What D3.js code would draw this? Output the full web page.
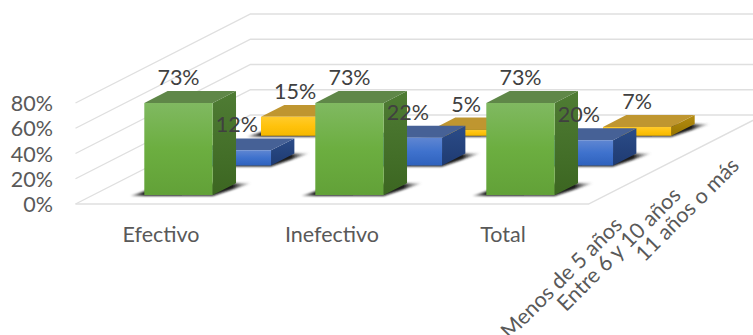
<!DOCTYPE html>
<html><head><meta charset="utf-8">
<script src="https://cdn.jsdelivr.net/npm/d3@7/dist/d3.min.js"></script>
<style>html,body{margin:0;padding:0;background:#fff;overflow:hidden}svg{display:block}text{font-family:Lato,"Open Sans",sans-serif}</style>
</head><body><svg id="c" width="753" height="335"></svg>
<script>
const categories = ["Efectivo", "Inefectivo", "Total"];
const seriesNames = ["Menos de 5 años", "Entre 6 y 10 años", "11 años o más"];
const menos5 = [73, 73, 73];
const entre6y10 = [12, 22, 20];
const once = [15, 5, 7];
const yTicks = [0, 20, 40, 60, 80, 100];
const yTickLabels = ["0%", "20%", "40%", "60%", "80%"];
const seriesValues = [menos5, entre6y10, once];
const palette = [
  {front:["#80b961","#6cae40","#62a138"], top:"#5f8748", side:["#4f7c34","#3c6621"]},
  {front:["#5f86d2","#3f72cd","#2f62bd"], top:"#466196", side:["#2b4c88","#1f3b72"]},
  {front:["#ffcb2c","#ffc20c","#f5b800"], top:"#bf9630", side:["#b58d12","#977500"]}
];

const W = 753, H = 335, depthDX = 175, depthDY = 89;
const FS = 21.5;
const svg = d3.select("#c");
const x = d3.scaleBand().domain(categories).range([75.5, 588.5]).paddingInner(0.6).paddingOuter(0.3);
const z = d3.scaleBand().domain(seriesNames).range([0, 1]).paddingInner(0.6).paddingOuter(0.3);
const y = d3.scaleLinear().domain([0, 80]).range([204, 103]);
const P = (px, d, v) => [px + d * depthDX, y(v) - d * depthDY];
const poly = pts => pts.map(p => p.map(n => n.toFixed(2)).join(",")).join(" ");

const defs = svg.append("defs");
defs.append("filter").attr("id","blur").attr("x","-20%").attr("y","-50%").attr("width","140%").attr("height","200%")
  .append("feGaussianBlur").attr("stdDeviation",0.9);
palette.forEach((c,i)=>{
  const f = defs.append("linearGradient").attr("id","f"+i).attr("x1",0).attr("x2",0).attr("y1",0).attr("y2",1);
  c.front.forEach((col,k)=>f.append("stop").attr("offset",k/2).attr("stop-color",col));
  const s = defs.append("linearGradient").attr("id","s"+i).attr("x1",0).attr("x2",0).attr("y1",0).attr("y2",1);
  c.side.forEach((col,k)=>s.append("stop").attr("offset",k).attr("stop-color",col));
});
const sg = defs.append("linearGradient").attr("id","shadow").attr("x1",0).attr("x2",1).attr("y1",0).attr("y2",0);
sg.append("stop").attr("offset",0).attr("stop-color","#000").attr("stop-opacity",.25);
sg.append("stop").attr("offset",.12).attr("stop-color","#000").attr("stop-opacity",.9);
sg.append("stop").attr("offset",.85).attr("stop-color","#111").attr("stop-opacity",.95);
sg.append("stop").attr("offset",1).attr("stop-color","#666").attr("stop-opacity",.15);

// gridlines
const grid = svg.append("g").attr("fill","none").attr("stroke","#dfdfdf").attr("stroke-width",1.4);
yTicks.slice(0,5).forEach(t=>{
  const a = P(x.range()[0],0,t), b = P(x.range()[0],1,t), c = P(x.range()[1],1,t);
  grid.append("polyline").attr("points",poly([a,b,c]));
});
const fl = P(x.range()[0],0,0), fr = P(x.range()[1],0,0), br = P(x.range()[1],1,0);
grid.append("polyline").attr("points",poly([fl,fr,br]));

// y axis labels
svg.append("g").selectAll("text").data(yTickLabels).join("text")
  .attr("x",53).attr("y",(d,i)=>y(yTicks[i])+8).attr("text-anchor","end")
  .attr("font-size",FS).attr("fill","#595959").text(d=>d);

// bars back to front
const bars = svg.append("g");
d3.range(seriesNames.length-1,-1,-1).forEach(si=>{
  const name = seriesNames[si], z0 = z(name), z1 = z0 + z.bandwidth();
  const layer = bars.append("g");
  categories.forEach((cat,ci)=>{
    const x0 = x(cat), x1 = x0 + x.bandwidth();
    const a = P(x0,z0,0), b = P(x1,z0,0), c = P(x1,z1,0);
    layer.append("polygon").attr("points",poly([[a[0]-14,a[1]+1],[b[0],b[1]+1],[c[0]+15,c[1]],[c[0]-x.bandwidth(),c[1]]]))
      .attr("fill","url(#shadow)").attr("filter","url(#blur)");
  });
  categories.forEach((cat,ci)=>{
    const x0 = x(cat), x1 = x0 + x.bandwidth(), v = seriesValues[si][ci];
    layer.append("polygon").attr("points",poly([P(x1,z0,0),P(x1,z1,0),P(x1,z1,v),P(x1,z0,v)])).attr("fill",`url(#s${si})`);
    layer.append("polygon").attr("points",poly([P(x0,z0,v),P(x1,z0,v),P(x1,z1,v),P(x0,z1,v)])).attr("fill",palette[si].top);
    layer.append("polygon").attr("points",poly([P(x0,z0,0),P(x1,z0,0),P(x1,z0,v),P(x0,z0,v)])).attr("fill",`url(#f${si})`);
  });
});

// data labels
const labels = svg.append("g").attr("font-size",FS).attr("fill","#404040").attr("text-anchor","middle");
seriesNames.forEach((name,si)=>{
  categories.forEach((cat,ci)=>{
    const v = seriesValues[si][ci];
    const p = P(x(cat)+x.bandwidth()/2, z(name), v);
    const back = P(x(cat), z(name)+z.bandwidth(), v);
    labels.append("text").attr("x",p[0]).attr("y",back[1]-6).text(v+"%");
  });
});

// category labels
svg.append("g").selectAll("text").data(categories).join("text")
  .attr("x",d=>x(d)+x.bandwidth()/2).attr("y",241.5).attr("text-anchor","middle")
  .attr("font-size",FS).attr("fill","#595959").text(d=>d);

// depth labels
svg.append("g").selectAll("text").data(seriesNames).join("text")
  .attr("text-anchor","end").attr("font-size",FS).attr("fill","#595959")
  .attr("transform",d=>{
    const p = P(x.range()[1], z(d)+z.bandwidth()/2, 0);
    return `translate(${p[0]+6},${p[1]+37}) rotate(-45)`;
  }).text(d=>d);
</script></body></html>
